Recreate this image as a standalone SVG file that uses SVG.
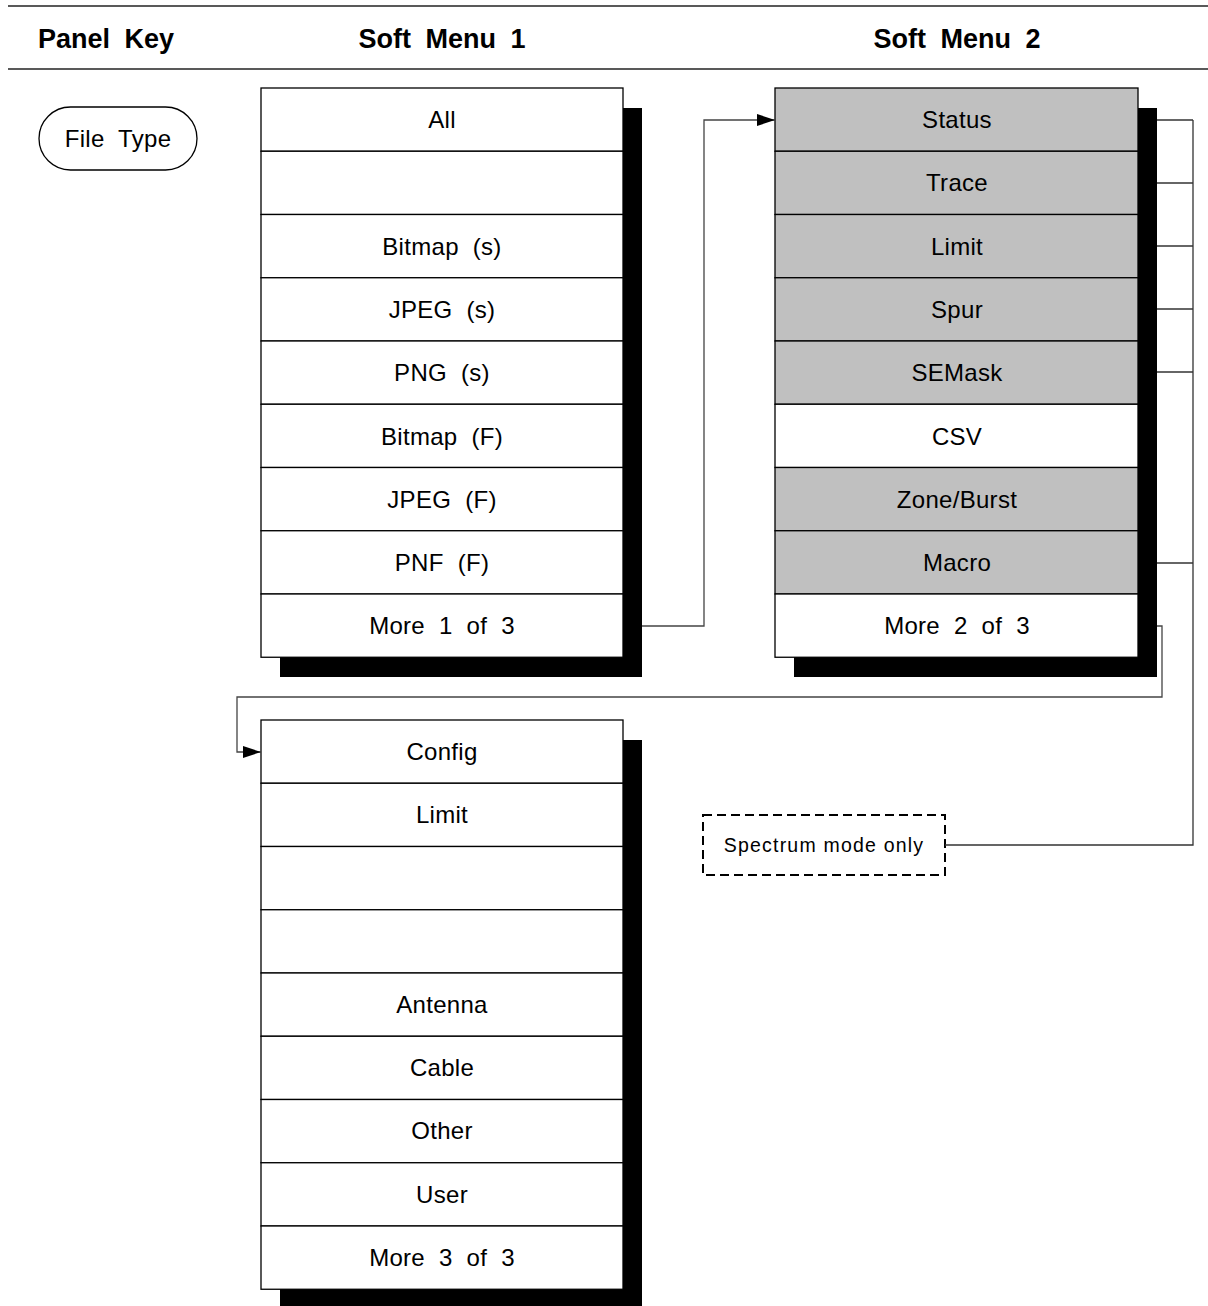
<svg xmlns="http://www.w3.org/2000/svg" width="1208" height="1306" viewBox="0 0 1208 1306">
<style>
.hdr{font-family:"Liberation Sans",Arial,sans-serif;font-weight:bold;font-size:27px;fill:#000;text-anchor:middle;word-spacing:7px}
.t{font-family:"Liberation Sans",Arial,sans-serif;font-size:24px;fill:#000;text-anchor:middle;word-spacing:7px;letter-spacing:0.3px}
.s{font-family:"Liberation Sans",Arial,sans-serif;font-size:19.5px;fill:#000;text-anchor:middle;letter-spacing:1.2px}
.cell{fill:#fff;stroke:#000;stroke-width:1.3}
.g{fill:#c0c0c0;stroke:#000;stroke-width:1.3}
.sh{fill:#000}
.ln{fill:none;stroke:#444;stroke-width:1.3}
</style>
<defs>
<marker id="ar" viewBox="0 0 18 12" refX="18" refY="6" markerWidth="18" markerHeight="12" markerUnits="userSpaceOnUse" orient="auto">
<path d="M0,0 L18,6 L0,12 z" fill="#000"/>
</marker>
</defs>
<rect width="1208" height="1306" fill="#fff"/>
<g id="header">
<line x1="8" y1="6" x2="1208" y2="6" stroke="#222" stroke-width="1.5"/>
<line x1="8" y1="69" x2="1208" y2="69" stroke="#222" stroke-width="1.5"/>
<text class="hdr" x="106" y="48">Panel Key</text>
<text class="hdr" x="442" y="48">Soft Menu 1</text>
<text class="hdr" x="957" y="48">Soft Menu 2</text>
</g>
<g id="filetype">
<rect x="39" y="107" width="158" height="63" rx="31.5" fill="#fff" stroke="#000" stroke-width="1.3"/>
<text class="t" x="118" y="147">File Type</text>
</g>
<g id="menu1">
<rect class="sh" x="280" y="108" width="362" height="569"/>
<rect class="cell" x="261" y="88" width="362" height="63.25"/>
<rect class="cell" x="261" y="151.25" width="362" height="63.25"/>
<rect class="cell" x="261" y="214.5" width="362" height="63.25"/>
<rect class="cell" x="261" y="277.75" width="362" height="63.25"/>
<rect class="cell" x="261" y="341" width="362" height="63.25"/>
<rect class="cell" x="261" y="404.25" width="362" height="63.25"/>
<rect class="cell" x="261" y="467.5" width="362" height="63.25"/>
<rect class="cell" x="261" y="530.75" width="362" height="63.25"/>
<rect class="cell" x="261" y="594" width="362" height="63.25"/>
<text class="t" x="442" y="128">All</text>
<text class="t" x="442" y="255">Bitmap (s)</text>
<text class="t" x="442" y="318">JPEG (s)</text>
<text class="t" x="442" y="381">PNG (s)</text>
<text class="t" x="442" y="445">Bitmap (F)</text>
<text class="t" x="442" y="508">JPEG (F)</text>
<text class="t" x="442" y="571">PNF (F)</text>
<text class="t" x="442" y="634">More 1 of 3</text>
</g>
<g id="menu2">
<rect class="sh" x="794" y="108" width="363" height="569"/>
<rect class="g" x="775" y="88" width="363" height="63.25"/>
<rect class="g" x="775" y="151.25" width="363" height="63.25"/>
<rect class="g" x="775" y="214.5" width="363" height="63.25"/>
<rect class="g" x="775" y="277.75" width="363" height="63.25"/>
<rect class="g" x="775" y="341" width="363" height="63.25"/>
<rect class="cell" x="775" y="404.25" width="363" height="63.25"/>
<rect class="g" x="775" y="467.5" width="363" height="63.25"/>
<rect class="g" x="775" y="530.75" width="363" height="63.25"/>
<rect class="cell" x="775" y="594" width="363" height="63.25"/>
<text class="t" x="957" y="128">Status</text>
<text class="t" x="957" y="191">Trace</text>
<text class="t" x="957" y="255">Limit</text>
<text class="t" x="957" y="318">Spur</text>
<text class="t" x="957" y="381">SEMask</text>
<text class="t" x="957" y="445">CSV</text>
<text class="t" x="957" y="508">Zone/Burst</text>
<text class="t" x="957" y="571">Macro</text>
<text class="t" x="957" y="634">More 2 of 3</text>
</g>
<g id="menu3">
<rect class="sh" x="280" y="740" width="362" height="570"/>
<rect class="cell" x="261" y="720" width="362" height="63.25"/>
<rect class="cell" x="261" y="783.25" width="362" height="63.25"/>
<rect class="cell" x="261" y="846.5" width="362" height="63.25"/>
<rect class="cell" x="261" y="909.75" width="362" height="63.25"/>
<rect class="cell" x="261" y="973" width="362" height="63.25"/>
<rect class="cell" x="261" y="1036.25" width="362" height="63.25"/>
<rect class="cell" x="261" y="1099.5" width="362" height="63.25"/>
<rect class="cell" x="261" y="1162.75" width="362" height="63.25"/>
<rect class="cell" x="261" y="1226" width="362" height="63.25"/>
<text class="t" x="442" y="760">Config</text>
<text class="t" x="442" y="823">Limit</text>
<text class="t" x="442" y="1013">Antenna</text>
<text class="t" x="442" y="1076">Cable</text>
<text class="t" x="442" y="1139">Other</text>
<text class="t" x="442" y="1203">User</text>
<text class="t" x="442" y="1266">More 3 of 3</text>
</g>
<g id="note">
<rect x="703" y="815" width="242" height="60" fill="#fff" stroke="#000" stroke-width="2" stroke-dasharray="9,5"/>
<text class="s" x="824" y="852">Spectrum mode only</text>
</g>
<g id="connectors">
<polyline class="ln" points="642,626 704,626 704,120 775,120" marker-end="url(#ar)"/>
<polyline class="ln" points="1157,626 1162,626 1162,697 237,697 237,752 261,752" marker-end="url(#ar)"/>
<g stroke="#333" stroke-width="1.3" fill="none">
<line x1="1157" y1="120" x2="1193" y2="120"/>
<line x1="1157" y1="183" x2="1193" y2="183"/>
<line x1="1157" y1="246" x2="1193" y2="246"/>
<line x1="1157" y1="309" x2="1193" y2="309"/>
<line x1="1157" y1="372" x2="1193" y2="372"/>
<line x1="1157" y1="563" x2="1193" y2="563"/>
<polyline points="1193,120 1193,845 945,845"/>
</g>
</g>
</svg>
